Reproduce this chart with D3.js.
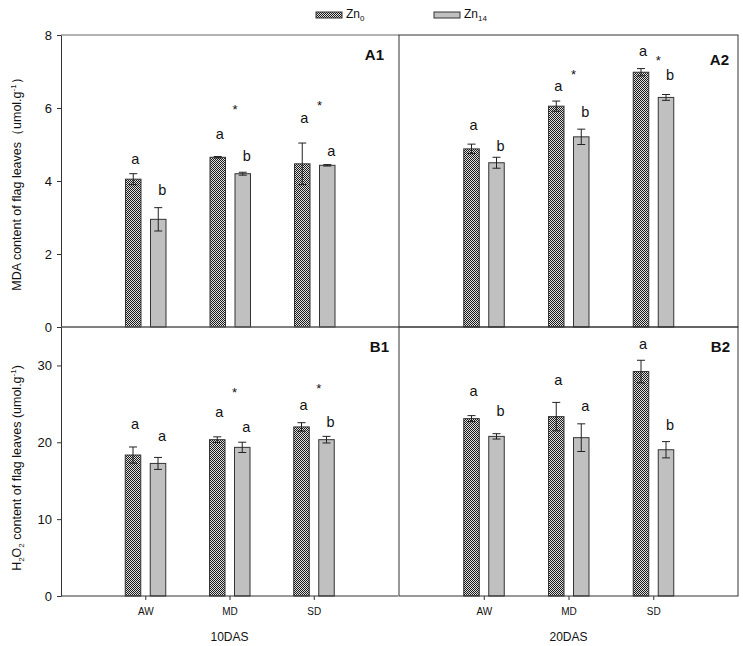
<!DOCTYPE html>
<html>
<head>
<meta charset="utf-8">
<script src="https://cdn.jsdelivr.net/npm/d3@7"></script>
<style>
  body { margin: 0; background: #fff; }
  text { font-family: "Liberation Sans", Arial, sans-serif; fill: #111; }
</style>
</head>
<body>
<svg id="chart" width="743" height="646"></svg>
<script>
"use strict";

// Categories and series
var categories = ["AW", "MD", "SD"];
var seriesNames = ["Zn0", "Zn14"];

// A1: MDA, 10DAS
var A1_zn0 = [4.05, 4.65, 4.47];
var A1_zn0_err = [0.15, 0.02, 0.57];
var A1_zn14 = [2.95, 4.20, 4.43];
var A1_zn14_err = [0.32, 0.04, 0.02];
var A1_zn0_sig = ["a", "a", "a"];
var A1_zn14_sig = ["b", "b", "a"];
var A1_zn0_sigAt = [4.59, 5.28, 5.70];
var A1_zn14_sigAt = [3.75, 4.67, 4.80];
var A1_starAt = [null, 6.02, 6.13];

// A2: MDA, 20DAS
var A2_zn0 = [4.88, 6.05, 6.98];
var A2_zn0_err = [0.13, 0.14, 0.10];
var A2_zn14 = [4.50, 5.21, 6.29];
var A2_zn14_err = [0.15, 0.21, 0.08];
var A2_zn0_sig = ["a", "a", "a"];
var A2_zn14_sig = ["b", "b", "b"];
var A2_zn0_sigAt = [5.52, 6.58, 7.56];
var A2_zn14_sigAt = [4.94, 5.88, 6.88];
var A2_starAt = [null, 6.99, 7.36];

// B1: H2O2, 10DAS
var B1_zn0 = [18.34, 20.34, 22.0];
var B1_zn0_err = [1.05, 0.37, 0.55];
var B1_zn14 = [17.25, 19.34, 20.34];
var B1_zn14_err = [0.78, 0.67, 0.43];
var B1_zn0_sig = ["a", "a", "a"];
var B1_zn14_sig = ["a", "a", "b"];
var B1_zn0_sigAt = [22.25, 23.82, 24.81];
var B1_zn14_sigAt = [20.69, 21.86, 22.6];
var B1_starAt = [null, 26.77, 27.29];

// B2: H2O2, 20DAS
var B2_zn0 = [23.08, 23.34, 29.2];
var B2_zn0_err = [0.39, 1.85, 1.47];
var B2_zn14 = [20.77, 20.6, 19.03];
var B2_zn14_err = [0.35, 1.8, 1.06];
var B2_zn0_sig = ["a", "a", "a"];
var B2_zn14_sig = ["b", "a", "b"];
var B2_zn0_sigAt = [26.6, 28.07, 32.72];
var B2_zn14_sigAt = [24.03, 24.68, 22.16];
var B2_starAt = [null, null, null];

// Axis ticks
var mdaTicks = [0, 2, 4, 6, 8];
var h2o2Ticks = [0, 10, 20, 30];

var svg = d3.select("#chart");

// checkered fill for Zn0 bars
var defs = svg.append("defs");
var pat = defs.append("pattern")
    .attr("id", "checker")
    .attr("patternUnits", "userSpaceOnUse")
    .attr("width", 2).attr("height", 2);
pat.append("rect").attr("width", 2).attr("height", 2).attr("fill", "#e0e0e0");
pat.append("rect").attr("x", 0).attr("y", 0).attr("width", 1).attr("height", 1).attr("fill", "#1a1a1a");
pat.append("rect").attr("x", 1).attr("y", 1).attr("width", 1).attr("height", 1).attr("fill", "#1a1a1a");

var fills = ["url(#checker)", "#c0c0c0"];
var lineColor = "#333";

var panels = [
    { name: "A1", x0: 61, x1: 399, top: 35, bottom: 327, max: 8, ticks: mdaTicks, leftAxis: true, box: false, xAxis: false,
      zn0: A1_zn0, zn0err: A1_zn0_err, zn14: A1_zn14, zn14err: A1_zn14_err,
      sig0: A1_zn0_sig, sig14: A1_zn14_sig, sig0At: A1_zn0_sigAt, sig14At: A1_zn14_sigAt, starAt: A1_starAt,
      labelX: 384, labelY: 60 },
    { name: "A2", x0: 399, x1: 738, top: 35, bottom: 327, max: 8, ticks: mdaTicks, leftAxis: false, box: true, xAxis: false,
      zn0: A2_zn0, zn0err: A2_zn0_err, zn14: A2_zn14, zn14err: A2_zn14_err,
      sig0: A2_zn0_sig, sig14: A2_zn14_sig, sig0At: A2_zn0_sigAt, sig14At: A2_zn14_sigAt, starAt: A2_starAt,
      labelX: 729, labelY: 65 },
    { name: "B1", x0: 61, x1: 398, top: 327, bottom: 596, max: 35, ticks: h2o2Ticks, leftAxis: true, box: false, xAxis: true,
      zn0: B1_zn0, zn0err: B1_zn0_err, zn14: B1_zn14, zn14err: B1_zn14_err,
      sig0: B1_zn0_sig, sig14: B1_zn14_sig, sig0At: B1_zn0_sigAt, sig14At: B1_zn14_sigAt, starAt: B1_starAt,
      labelX: 389, labelY: 352, xTitle: "10DAS" },
    { name: "B2", x0: 399, x1: 738, top: 327, bottom: 596, max: 35, ticks: h2o2Ticks, leftAxis: false, box: true, xAxis: true,
      zn0: B2_zn0, zn0err: B2_zn0_err, zn14: B2_zn14, zn14err: B2_zn14_err,
      sig0: B2_zn0_sig, sig14: B2_zn14_sig, sig0At: B2_zn0_sigAt, sig14At: B2_zn14_sigAt, starAt: B2_starAt,
      labelX: 730, labelY: 352, xTitle: "20DAS" }
];

var barW = 15.5;
var offsets = [-20, 5];

panels.forEach(function(p) {
    var g = svg.append("g").attr("id", "panel_" + p.name);
    var x = d3.scaleLinear().domain([0, categories.length + 1]).range([p.x0, p.x1]);
    var y = d3.scaleLinear().domain([0, p.max]).range([p.bottom, p.top]);

    // Bars, error bars and letters for each series
    var seriesData = [
        { vals: p.zn0, errs: p.zn0err, sig: p.sig0, sigAt: p.sig0At, dx: 2 },
        { vals: p.zn14, errs: p.zn14err, sig: p.sig14, sigAt: p.sig14At, dx: 4 }
    ];
    seriesData.forEach(function(s, si) {
        var rows = categories.map(function(c, i) {
            return { i: i, v: s.vals[i], e: s.errs[i], sig: s.sig[i], sigAt: s.sigAt[i] };
        });
        g.selectAll(".bar" + si).data(rows).enter().append("rect")
            .attr("class", "bar" + si)
            .attr("x", function(d) { return x(d.i + 1) + offsets[si]; })
            .attr("y", function(d) { return y(d.v); })
            .attr("width", barW)
            .attr("height", function(d) { return y(0) - y(d.v); })
            .attr("fill", fills[si])
            .attr("stroke", lineColor).attr("stroke-width", 1);

        var eb = g.selectAll(".err" + si).data(rows).enter().append("g").attr("class", "err" + si)
            .attr("stroke", "#222").attr("stroke-width", 1);
        eb.append("line")
            .attr("x1", function(d) { return x(d.i + 1) + offsets[si] + barW / 2; })
            .attr("x2", function(d) { return x(d.i + 1) + offsets[si] + barW / 2; })
            .attr("y1", function(d) { return y(d.v + d.e); })
            .attr("y2", function(d) { return y(d.v - d.e); });
        [1, -1].forEach(function(sign) {
            eb.append("line")
                .attr("x1", function(d) { return x(d.i + 1) + offsets[si] + barW / 2 - 4; })
                .attr("x2", function(d) { return x(d.i + 1) + offsets[si] + barW / 2 + 4; })
                .attr("y1", function(d) { return y(d.v + sign * d.e); })
                .attr("y2", function(d) { return y(d.v + sign * d.e); });
        });

        g.selectAll(".sig" + si).data(rows).enter().append("text")
            .attr("class", "sig" + si)
            .attr("x", function(d) { return x(d.i + 1) + offsets[si] + barW / 2 + s.dx; })
            .attr("y", function(d) { return y(d.sigAt) + 4.5; })
            .attr("text-anchor", "middle")
            .style("font-size", "14.5px")
            .text(function(d) { return d.sig; });
    });

    // significance asterisks
    var stars = p.starAt.map(function(v, i) { return { i: i, v: v }; }).filter(function(d) { return d.v !== null; });
    g.selectAll(".star").data(stars).enter().append("text")
        .attr("class", "star")
        .attr("x", function(d) { return x(d.i + 1) + 5; })
        .attr("y", function(d) { return y(d.v) + 7; })
        .attr("text-anchor", "middle")
        .style("font-size", "13px")
        .text("*");

    // frame
    if (p.box) {
        g.append("rect")
            .attr("x", p.x0).attr("y", p.top)
            .attr("width", p.x1 - p.x0).attr("height", p.bottom - p.top)
            .attr("fill", "none").attr("stroke", lineColor).attr("stroke-width", 1);
    } else {
        g.append("line").attr("x1", p.x0).attr("x2", p.x1).attr("y1", p.top).attr("y2", p.top)
            .attr("stroke", "#666");
        g.append("line").attr("x1", p.x0).attr("x2", p.x1).attr("y1", p.bottom).attr("y2", p.bottom)
            .attr("stroke", lineColor);
    }

    if (p.leftAxis) {
        var ax = g.append("g").attr("transform", "translate(" + p.x0 + ",0)")
            .call(d3.axisLeft(y).tickValues(p.ticks).tickSize(4).tickPadding(5).tickSizeOuter(0));
        ax.select(".domain").attr("stroke", lineColor);
        ax.selectAll(".tick line").attr("stroke", lineColor);
        ax.selectAll("text").style("font-size", "13px").style("font-family", "Liberation Sans, Arial, sans-serif").attr("fill", "#111");
    }

    if (p.xAxis) {
        var bx = g.append("g").attr("transform", "translate(0," + p.bottom + ")")
            .call(d3.axisBottom(x).tickValues(d3.range(1, categories.length + 1))
                .tickFormat(function(d) { return categories[d - 1]; })
                .tickSize(4).tickPadding(8).tickSizeOuter(0));
        bx.select(".domain").remove();
        bx.selectAll(".tick line").attr("stroke", lineColor);
        bx.selectAll("text").style("font-size", "10px").style("font-family", "Liberation Sans, Arial, sans-serif").attr("fill", "#111");
        svg.append("text")
            .attr("x", (p.x0 + p.x1) / 2).attr("y", 641)
            .attr("text-anchor", "middle")
            .style("font-size", "12px")
            .text(p.xTitle);
    }

    svg.append("text")
        .attr("x", p.labelX).attr("y", p.labelY)
        .attr("text-anchor", "end")
        .style("font-size", "15px").style("font-weight", "bold")
        .text(p.name);
});

// y-axis titles
var titleA = svg.append("text")
    .attr("transform", "translate(21,181) rotate(-90)")
    .attr("text-anchor", "middle")
    .style("font-size", "12.5px");
titleA.append("tspan").text("MDA content of flag leaves（umol.g");
titleA.append("tspan").attr("dy", -5).style("font-size", "8px").text("-1");
titleA.append("tspan").attr("dy", 5).text("）");

var titleB = svg.append("text")
    .attr("transform", "translate(21,468) rotate(-90)")
    .attr("text-anchor", "middle")
    .style("font-size", "12.5px");
titleB.append("tspan").text("H");
titleB.append("tspan").attr("dy", 3).style("font-size", "8px").text("2");
titleB.append("tspan").attr("dy", -3).text("O");
titleB.append("tspan").attr("dy", 3).style("font-size", "8px").text("2");
titleB.append("tspan").attr("dy", -3).text(" content of flag leaves (umol.g");
titleB.append("tspan").attr("dy", -5).style("font-size", "8px").text("-1");
titleB.append("tspan").attr("dy", 5).text(")");

// legend
var legendX = [316, 434];
var legendSub = ["0", "14"];
seriesNames.forEach(function(n, i) {
    svg.append("rect")
        .attr("x", legendX[i]).attr("y", 12).attr("width", 26).attr("height", 6)
        .attr("fill", fills[i]).attr("stroke", lineColor);
    var t = svg.append("text").attr("x", legendX[i] + 30).attr("y", 18).style("font-size", "12px");
    t.append("tspan").text("Zn");
    t.append("tspan").attr("dy", 3).style("font-size", "8px").text(legendSub[i]);
});
</script>
</body>
</html>
